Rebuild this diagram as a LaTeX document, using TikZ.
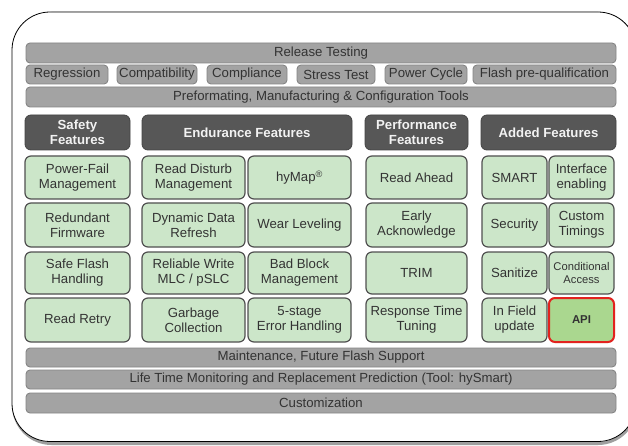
\documentclass[tikz,border=0pt]{standalone}
\usepackage{fontspec}
\setmainfont{Liberation Sans}

\definecolor{barfill}{HTML}{A3A3A3}
\definecolor{barline}{HTML}{858585}
\definecolor{headfill}{HTML}{575757}
\definecolor{headline}{HTML}{444444}
\definecolor{cellfill}{HTML}{CCE6C9}
\definecolor{cellline}{HTML}{505050}
\definecolor{apifill}{HTML}{AAD78F}
\definecolor{apiline}{HTML}{E2231E}
\definecolor{txt}{HTML}{333333}
\definecolor{headtxt}{HTML}{F2F2F2}

% block placed by its corners: style, name, x1, y1, x2, y2, text
\newcommand\blk[7]{%
  \node[#1, minimum width={(#5-#3)*1pt}, minimum height={(#6-#4)*1pt}]
    (#2) at ({(#3+#5)/2},{(#4+#6)/2}) {#7};}

\tikzset{
  base/.style={rectangle, inner sep=0pt, outer sep=0pt, align=center,
    font=\fontsize{13.2}{15}\selectfont, text=txt},
  bar/.style={base, fill=barfill, draw=barline, line width=0.9pt, rounded corners=4pt},
  head/.style={base, fill=headfill, draw=headline, line width=0.8pt, rounded corners=6pt,
    text=headtxt, font=\bfseries\fontsize{13.2}{14.5}\selectfont},
  cell/.style={base, fill=cellfill, draw=cellline, line width=1.2pt, rounded corners=6pt},
  small/.style={font=\fontsize{11.2}{13}\selectfont},
  api/.style={base, fill=apifill, draw=apiline, line width=2pt, rounded corners=6pt,
    font=\bfseries\fontsize{11.4}{13}\selectfont},
}

\begin{document}
\begin{tikzpicture}[x=1pt, y=-1pt]
\useasboundingbox (0,0) rectangle (628,446);
\fill[white] (0,0) rectangle (628,446);

% outer frame with a soft shadow, partly cut off at the right
\begin{scope}
  \clip (0,0) rectangle (628,446);
  \draw[gray!75, line width=3pt, rounded corners=38pt] (13.5,13.5) rectangle (636,443.5);
  \draw[black, line width=0.8pt, fill=white, rounded corners=38pt] (12,12) rectangle (636,441.5);
\end{scope}

% test and tooling bars
\blk{bar}{rel}{26}{43}{616}{63}{Release Testing}
\blk{bar}{regr}{26}{65}{108}{84}{Regression}
\blk{bar}{compat}{117}{65}{197}{84}{Compatibility}
\blk{bar}{compl}{207}{65}{287}{84}{Compliance}
\blk{bar}{stress}{297}{65}{375}{84}{Stress Test}
\blk{bar}{power}{385}{65}{467}{84}{Power Cycle}
\blk{bar}{flash}{473}{65}{616}{84}{Flash pre-qualification}
\blk{bar}{prefmt}{26}{87}{616}{107}{Preformating, Manufacturing \& Configuration Tools}

% feature group headers
\blk{head}{hsafe}{25}{115}{130}{150}{Safety\\Features}
\blk{head}{hendu}{142}{115}{352}{150}{Endurance Features}
\blk{head}{hperf}{365}{115}{468}{150}{Performance\\Features}
\blk{head}{hadd}{481}{115}{616}{150}{Added Features}

% row 1
\blk{cell}{pfm}{25}{156}{130}{199}{Power-Fail\\Management}
\blk{cell}{rdm}{142}{156}{245}{199}{Read Disturb\\Management}
\blk{cell}{hymap}{248}{156}{351}{199}{hyMap\textsuperscript{\textregistered}}
\blk{cell}{rahead}{366}{156}{467}{199}{Read Ahead}
\blk{cell}{smart}{482}{156}{547}{199}{SMART}
\blk{cell}{iface}{549}{156}{614}{199}{Interface\\enabling}

% row 2
\blk{cell}{rfw}{25}{203}{130}{247}{Redundant\\Firmware}
\blk{cell}{ddr}{142}{203}{245}{247}{Dynamic Data\\Refresh}
\blk{cell}{wear}{248}{203}{351}{247}{Wear Leveling}
\blk{cell}{early}{366}{203}{467}{247}{Early\\Acknowledge}
\blk{cell}{secur}{482}{203}{547}{247}{Security}
\blk{cell}{ctime}{549}{203}{614}{247}{Custom\\Timings}

% row 3
\blk{cell}{sfh}{25}{252}{130}{294}{Safe Flash\\Handling}
\blk{cell}{rwm}{142}{252}{245}{294}{Reliable Write\\MLC / pSLC}
\blk{cell}{bbm}{248}{252}{351}{294}{Bad Block\\Management}
\blk{cell}{trim}{366}{252}{467}{294}{TRIM}
\blk{cell}{sanit}{482}{252}{547}{294}{Sanitize}
\blk{cell,small}{cacc}{549}{252}{614}{294}{Conditional\\Access}

% row 4
\blk{cell}{rretry}{25}{298}{130}{342}{Read Retry}
\blk{cell}{gc}{142}{298}{245}{342}{Garbage\\Collection}
\blk{cell}{ecc}{248}{298}{351}{342}{5-stage\\Error Handling}
\blk{cell}{resp}{366}{298}{467}{342}{Response Time\\Tuning}
\blk{cell}{infield}{482}{298}{547}{342}{In Field\\update}
\blk{api}{api}{549}{298}{614}{342}{API}

% support bars
\blk{bar}{maint}{26}{348}{616}{367}{Maintenance, Future Flash Support}
\blk{bar}{life}{26}{370}{616}{389}{Life Time Monitoring and Replacement Prediction (Tool: hySmart)}
\blk{bar}{custom}{26}{393}{616}{413}{Customization}
\end{tikzpicture}
\end{document}
